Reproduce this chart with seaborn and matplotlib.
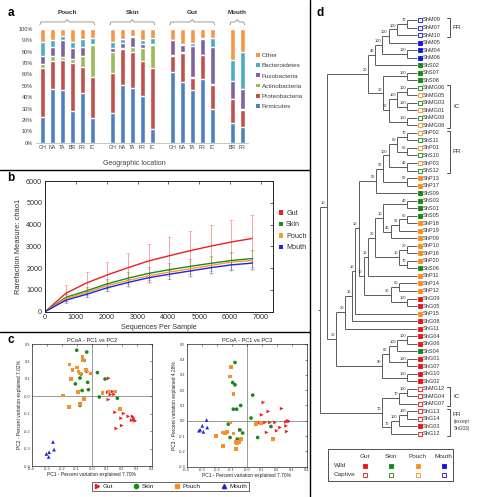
import numpy as np
import pandas as pd
import matplotlib
matplotlib.use("Agg")
import matplotlib.pyplot as plt
from matplotlib.lines import Line2D
from matplotlib.patches import Patch, Rectangle
from matplotlib.transforms import Affine2D
import seaborn as sns

sns.set_theme(style="white")
plt.rcParams["font.family"] = ["Liberation Sans", "DejaVu Sans"]
plt.rcParams["axes.unicode_minus"] = False

W, H = 482, 497

# ---------------- a: phylum composition per site / location
bar_groups = ["Pouch"] * 6 + ["Skin"] * 5 + ["Gut"] * 5 + ["Mouth"] * 2
bar_sites = ["GH", "NA", "TA", "BR", "FR", "IC", "GH", "NA", "TA", "FR", "IC",
             "GH", "NA", "TA", "FR", "IC", "BR", "FR"]
firmicutes = [23, 47, 46, 28, 44, 22, 26, 51, 48, 41, 12, 62, 53, 46, 56, 30, 17, 14]
proteobacteria = [43, 25, 27, 42, 23, 36, 35, 31, 32, 31, 54, 14, 26, 11, 21, 21, 21, 15]
actinobacteria = [3, 4, 2, 4, 9, 28, 19, 1, 4, 11, 20, 1, 1, 1, 0.5, 1, 0.5, 0.5]
fusobacteria = [7, 8, 15, 9, 8, 1, 3, 5, 9, 4, 0.5, 13, 6, 27, 13.5, 32, 16, 18]
bacteroidetes = [13, 6, 4, 6, 7, 5, 6, 3, 1, 3, 5.5, 0.5, 1, 3, 1, 8, 18, 32]
other = [11, 10, 6, 11, 9, 8, 11, 9, 6, 10, 8, 9.5, 13, 12, 8, 8, 27.5, 20.5]
phyla = ["Firmicutes", "Proteobacteria", "Actinobacteria", "Fusobacteria", "Bacteroidetes", "Other"]
phylum_colors = ["#4F81BD", "#C0504D", "#9BBB59", "#8064A2", "#4BACC6", "#F79646"]

# ---------------- b: rarefaction (chao1)
seq_depth = [10, 680, 1350, 2020, 2690, 3360, 4030, 4700, 5370, 6040, 6710]
chao_gut = [10, 850, 1320, 1690, 2020, 2330, 2570, 2800, 3010, 3200, 3360]
chao_skin = [10, 660, 960, 1280, 1540, 1760, 1930, 2080, 2220, 2350, 2440]
chao_pouch = [10, 600, 880, 1200, 1430, 1650, 1820, 1970, 2120, 2280, 2350]
chao_mouth = [10, 530, 800, 1100, 1340, 1560, 1720, 1870, 2020, 2150, 2230]
sd_gut = [0, 380, 480, 580, 670, 780, 860, 920, 980, 1030, 1100]
sd_skin = [0, 150, 190, 230, 260, 290, 310, 330, 350, 370, 380]
sd_pouch = [0, 170, 220, 260, 290, 320, 340, 360, 380, 400, 420]
sd_mouth = [0, 110, 140, 160, 180, 200, 210, 220, 230, 240, 250]
sites = ["Gut", "Skin", "Pouch", "Mouth"]
line_colors = {"Gut": "#F01E1E", "Skin": "#1A8C1A", "Pouch": "#FF9A33", "Mouth": "#2323E6"}

# ---------------- c: PCoA
gut_pc1_a = [-0.038, -0.029, 0.113, 0.107, 0.138, 0.149, 0.111, 0.156, 0.196, 0.213,
             0.244, 0.273, 0.280, 0.285, 0.291, 0.267, 0.164, 0.200, 0.125]
gut_pc2_a = [0.149, 0.141, 0.103, 0.023, 0.027, 0.011, -0.019, -0.092, -0.126, -0.099,
             -0.115, -0.115, -0.126, -0.138, -0.141, -0.138, -0.185, -0.168, 0.010]
skin_pc1_a = [-0.100, -0.033, -0.051, -0.078, 0.038, 0.089, -0.027, -0.109, -0.064,
              -0.022, 0.051, 0.171, -0.078, -0.071]
skin_pc2_a = [0.264, 0.254, 0.206, 0.105, 0.136, 0.099, 0.080, 0.071, 0.033,
              0.038, -0.004, -0.011, -0.052, 0.128]
pouch_pc1_a = [-0.149, -0.127, -0.100, -0.089, -0.062, -0.056, -0.078, -0.007, -0.138, -0.093,
               -0.193, -0.051, -0.078, -0.153, 0.073, 0.113, 0.156, 0.189, -0.040]
pouch_pc2_a = [0.182, 0.149, 0.166, 0.143, 0.224, 0.206, 0.130, 0.130, 0.099, 0.023,
               0.004, -0.017, -0.044, -0.063, 0.019, 0.027, 0.027, -0.073, 0.150]
mouth_pc1_a = [-0.258, -0.251, -0.284, -0.302, -0.287]
mouth_pc2_a = [-0.262, -0.306, -0.321, -0.331, -0.348]

gut_pc1_b = [0.111, 0.144, 0.100, 0.233, 0.122, 0.155, 0.189, 0.262, 0.273, 0.283,
             0.262, 0.222, 0.133, 0.267, 0.200, -0.045, 0.075, 0.090]
gut_pc3_b = [0.120, 0.061, 0.039, 0.080, -0.011, -0.011, -0.011, -0.007, 0.000, -0.004,
             -0.033, -0.044, -0.076, -0.070, -0.065, -0.059, -0.015, -0.011]
skin_pc1_b = [-0.078, -0.093, -0.078, -0.040, -0.067, -0.089, -0.123, -0.111, -0.063,
              -0.027, 0.040, 0.029, 0.162, 0.073, -0.045]
skin_pc3_b = [0.381, 0.250, 0.235, 0.100, 0.076, 0.076, -0.022, -0.109, -0.120,
              -0.080, 0.168, 0.018, -0.037, -0.109, -0.060]
pouch_pc1_b = [-0.105, -0.111, -0.089, -0.107, -0.205, -0.160, -0.145, -0.133, -0.089,
               -0.160, -0.073, -0.063, -0.050, -0.073, 0.062, 0.095, 0.177, -0.040]
pouch_pc3_b = [0.353, 0.290, 0.174, -0.011, -0.098, -0.076, -0.080, -0.072, -0.083,
               -0.163, -0.137, -0.146, -0.140, -0.185, -0.022, -0.015, -0.120, -0.120]
mouth_pc1_b = [-0.311, -0.296, -0.318, -0.289, -0.267, -0.263]
mouth_pc3_b = [-0.059, -0.033, -0.065, -0.072, 0.005, -0.044]
pc_colors = {"Gut": "#EE1C1C", "Skin": "#178A17", "Pouch": "#F5902A", "Mouth": "#2222DD"}
pc_markers = {"Gut": ">", "Skin": "o", "Pouch": "s", "Mouth": "^"}

# ---------------- d: tree
tree_leaves = ["ShM09", "ShM07", "ShM10", "ShM05", "ShM04", "ShM06", "ShS02", "ShS07", "ShS08",
               "ShMG06", "ShMG05", "ShMG03", "ShMG01", "ShMG09", "ShMG08",
               "ShP02", "ShS11", "ShP01", "ShS10", "ShP03", "ShS12",
               "ShP13", "ShP17", "ShS09", "ShS03", "ShS01", "ShS05", "ShP18", "ShP19", "ShP09",
               "ShP10", "ShP16", "ShP20", "ShS06", "ShP11", "ShP14", "ShP12", "ShG09", "ShG05",
               "ShP15", "ShG08", "ShG11", "ShG04", "ShG06", "ShS04", "ShG01", "ShG07", "ShG10",
               "ShG02", "ShMG12", "ShMG04", "ShMG07", "ShG13", "ShG14", "ShG03", "ShG12"]
leaf_site = (["Mouth"] * 6 + ["Skin"] * 3 + ["Skin", "Pouch"] * 3 + ["Pouch", "Skin"] * 3 +
             ["Pouch", "Pouch", "Skin", "Skin", "Skin", "Skin", "Pouch", "Pouch", "Pouch",
              "Pouch", "Pouch", "Pouch", "Skin", "Pouch", "Pouch", "Pouch", "Gut", "Gut",
              "Pouch", "Gut", "Gut", "Gut", "Gut", "Skin", "Gut", "Gut", "Gut", "Gut"] +
             ["Gut"] * 7)
leaf_wild = [False] * 3 + [True] * 6 + [False] * 12 + [True] * 28 + [False] * 5 + [True] + [False]
tree_colors = {"Gut": "#EE1111", "Skin": "#118811", "Pouch": "#FF8C1A", "Mouth": "#1111EE"}


def clade(depth, support, *kids):
    return {"depth": depth, "support": support, "kids": list(kids)}


tree = clade(0, None,
    clade(7, 10,
        clade(49.5, 20,
            clade(57, 40,
                clade(64, 100,
                    clade(71, 100,
                        clade(79.4, 100, clade(90, 70, "ShM09", "ShM07"), "ShM10"),
                        "ShM05"),
                    clade(90, 100, "ShM04", "ShM06")),
                "ShS02"),
            clade(65, 30,
                clade(90, 100, "ShS07", "ShS08"),
                clade(71, 60,
                    clade(79.4, 100, clade(90, 100, "ShMG06", "ShMG05"),
                          clade(90, 100, "ShMG03", "ShMG01")),
                    clade(90, 100, "ShMG09", "ShMG08")))),
        clade(16.5, 30,
            clade(26, 20,
                clade(33, 10,
                    clade(36, 10,
                        clade(40, 10,
                            clade(58, 50,
                                clade(65, 50,
                                    clade(71, 100,
                                        clade(79.4, 60, clade(90, 70, "ShP02", "ShS11"),
                                              clade(90, 60, "ShP01", "ShS10")),
                                        clade(90, 40, "ShP03", "ShS12")),
                                    clade(90, 50, "ShP13", "ShP17")),
                                "ShS09"),
                            clade(45, 10,
                                clade(49.5, 10,
                                    clade(57, 20,
                                        clade(65, 10,
                                            clade(90, 40, "ShS03", "ShS01"),
                                            clade(73, 40,
                                                clade(81.4, 50, clade(90, 60, "ShS05", "ShP18"), "ShP19"),
                                                "ShP09")),
                                        clade(81.4, 10, clade(90, 20, "ShP10", "ShP16"),
                                              clade(90, 70, "ShP20", "ShS06"))),
                                    "ShP11"),
                                clade(73, 30, clade(81.4, 60, "ShP14", "ShP12"),
                                      clade(90, 100, "ShG09", "ShG05")))),
                        "ShP15"),
                    "ShG08"),
                "ShG11"),
            clade(64, 90,
                clade(71, 80,
                    clade(79.4, 100, clade(90, 100, "ShG04", "ShG06"), "ShS04"),
                    clade(90, 100, "ShG01", "ShG07")),
                clade(90, 100, "ShG10", "ShG02")))),
    clade(64, 70,
        clade(81.4, 70, clade(90, 100, "ShMG12", "ShMG04"), "ShMG07"),
        clade(73, 70, clade(81.4, 100, clade(90, 100, "ShG13", "ShG14"), "ShG03"), "ShG12")))

brackets = [("FR", "ShM09", "ShM10"), ("IC", "ShMG06", "ShMG08"), ("FR", "ShP02", "ShS12"),
            ("IC", "ShMG12", "ShMG07"), ("FR", "ShG13", "ShG12")]


def frac(x0, y0, x1, y1):
    return [x0 / W, 1 - y1 / H, (x1 - x0) / W, (y1 - y0) / H]


fig = plt.figure(figsize=(W / 100, H / 100), dpi=100)
pix = Affine2D().scale(1 / W, -1 / H).translate(0, 1) + fig.transFigure


def ptext(x, y, s, **kw):
    fig.text(x / W, 1 - y / H, s, **kw)


# ======================= panel a
ax_a = fig.add_axes(frac(36, 29, 248, 142.7))
bar_ids = [f"{g} {s}" for g, s in zip(bar_groups, bar_sites)]
slots = []
for i, g in enumerate(bar_groups):
    if i and g != bar_groups[i - 1]:
        slots.append(f"gap {i}")
    slots.append(bar_ids[i])
comp = pd.DataFrame({"bar": bar_ids, "Firmicutes": firmicutes, "Proteobacteria": proteobacteria,
                     "Actinobacteria": actinobacteria, "Fusobacteria": fusobacteria,
                     "Bacteroidetes": bacteroidetes, "Other": other})
stack = comp[phyla].cumsum(axis=1)
for ph, col in reversed(list(zip(phyla, phylum_colors))):
    sns.barplot(x=comp["bar"], y=stack[ph], order=slots, color=col, width=0.47,
                saturation=1, errorbar=None, ax=ax_a)
ax_a.set_xlim(-0.63, 20.57)
ax_a.set_ylim(0, 100)
ax_a.set_yticks(range(0, 101, 10))
ax_a.set_yticklabels([f"{v}%" for v in range(0, 101, 10)], fontsize=4, color="#404040")
ax_a.set_xticks(range(len(slots)))
ax_a.set_xticklabels(["" if s.startswith("gap") else s.split(" ")[1] for s in slots],
                     fontsize=3.8, color="#404040")
ax_a.tick_params(length=0, pad=2)
ax_a.set_xlabel("")
ax_a.set_ylabel("")
for sp in ["left", "top", "right"]:
    ax_a.spines[sp].set_visible(False)
ax_a.spines["bottom"].set_color("#bdbdbd")
ax_a.spines["bottom"].set_linewidth(0.6)
for g in ["Pouch", "Skin", "Gut", "Mouth"]:
    idx = [k for k, s in enumerate(slots) if s.startswith(g + " ")]
    x0, x1 = idx[0] - 0.25, idx[-1] + 0.25
    xm = (x0 + x1) / 2
    ax_a.plot([x0, x0 + 0.12, xm - 0.2, xm, xm + 0.2, x1 - 0.12, x1],
              [103.5, 106.2, 106.2, 108.2, 106.2, 106.2, 103.5],
              color="#8c8c8c", lw=0.6, clip_on=False)
    ax_a.text(xm, 114.3, g, ha="center", va="center", fontsize=4.6, fontweight="bold",
              color="#333333", clip_on=False)
ptext(134, 163.7, "Geographic location", ha="center", va="center", fontsize=5, color="#404040")
fig.legend([Patch(facecolor=c, edgecolor="none") for c in phylum_colors[::-1]], phyla[::-1],
           loc="upper left", bbox_to_anchor=(256 / W, 1 - 53 / H), frameon=False, fontsize=4.6,
           handlelength=0.55, handleheight=0.55, handletextpad=0.35, labelspacing=0.78,
           borderaxespad=0, borderpad=0, labelcolor="#404040")

# ======================= panel b
ax_b = fig.add_axes(frac(45, 181, 273, 311.7))
rare = pd.DataFrame({"seqs": seq_depth * 4,
                     "chao1": chao_gut + chao_skin + chao_pouch + chao_mouth,
                     "site": [s for s in sites for _ in seq_depth]})
for site, mean, sd in zip(sites, [chao_gut, chao_skin, chao_pouch, chao_mouth],
                          [sd_gut, sd_skin, sd_pouch, sd_mouth]):
    ax_b.errorbar(seq_depth[1:], mean[1:], yerr=sd[1:], fmt="none", ecolor=line_colors[site],
                  alpha=0.4, elinewidth=0.7, capsize=1.6, capthick=0.5)
sns.lineplot(data=rare, x="seqs", y="chao1", hue="site", palette=line_colors, linewidth=1.0,
             legend=False, errorbar=None, ax=ax_b)
ax_b.set_xlim(0, 7390)
ax_b.set_ylim(0, 6000)
ax_b.set_xticks(range(0, 7001, 1000))
ax_b.set_yticks(range(0, 6001, 1000))
ax_b.tick_params(direction="in", top=True, right=True, length=2.5, width=0.5, labelsize=5.2,
                 labelcolor="#333333", pad=2)
for sp in ax_b.spines.values():
    sp.set_color("#222222")
    sp.set_linewidth(0.7)
ax_b.set_xlabel("Sequences Per Sample", fontsize=5.2, color="#333333", labelpad=1.5)
ax_b.set_ylabel("Rarefaction Measure: chao1", fontsize=5.4, color="#333333", labelpad=3)
fig.legend([Patch(facecolor=line_colors[s], edgecolor="none") for s in sites], sites,
           loc="upper left", bbox_to_anchor=(279 / W, 1 - 210 / H), frameon=False, fontsize=5.2,
           handlelength=0.6, handleheight=0.6, handletextpad=0.4, labelspacing=0.62,
           borderaxespad=0, borderpad=0, labelcolor="#333333")

# ======================= panel c
pcoa_a = pd.DataFrame({"pc1": gut_pc1_a + skin_pc1_a + pouch_pc1_a + mouth_pc1_a,
                       "pc2": gut_pc2_a + skin_pc2_a + pouch_pc2_a + mouth_pc2_a,
                       "site": ["Gut"] * len(gut_pc1_a) + ["Skin"] * len(skin_pc1_a) +
                               ["Pouch"] * len(pouch_pc1_a) + ["Mouth"] * len(mouth_pc1_a)})
pcoa_b = pd.DataFrame({"pc1": gut_pc1_b + skin_pc1_b + pouch_pc1_b + mouth_pc1_b,
                       "pc3": gut_pc3_b + skin_pc3_b + pouch_pc3_b + mouth_pc3_b,
                       "site": ["Gut"] * len(gut_pc1_b) + ["Skin"] * len(skin_pc1_b) +
                               ["Pouch"] * len(pouch_pc1_b) + ["Mouth"] * len(mouth_pc1_b)})
ax_c1 = fig.add_axes(frac(31.7, 344, 151.7, 466))
ax_c2 = fig.add_axes(frac(186.7, 344.3, 306.7, 466.7))
for ax, df, yc, ylim, title, ylab in [
        (ax_c1, pcoa_a, "pc2", (-0.4, 0.3), "PCoA - PC1 vs PC2", "PC2 - Percent variation explained 7.02%"),
        (ax_c2, pcoa_b, "pc3", (-0.3, 0.5), "PCoA - PC1 vs PC3", "PC3 - Percent variation explained 4.28%")]:
    ax.axhline(0, color="#8a8a8a", lw=0.6, zorder=0)
    ax.axvline(0, color="#8a8a8a", lw=0.6, zorder=0)
    sns.scatterplot(data=df, x="pc1", y=yc, hue="site", style="site", palette=pc_colors,
                    markers=pc_markers, s=7, linewidth=0, legend=False, ax=ax)
    ax.set_xlim(-0.4, 0.4)
    ax.set_ylim(*ylim)
    ax.set_xticks(np.arange(-0.4, 0.41, 0.1))
    ax.set_xticklabels([f"{v:.1f}" for v in np.arange(-0.4, 0.41, 0.1)])
    yt = np.arange(ylim[0], ylim[1] + 0.01, 0.1)
    ax.set_yticks(yt)
    ax.set_yticklabels([f"{v:.1f}" for v in yt])
    ax.tick_params(direction="in", top=True, right=True, length=1.5, width=0.4, labelsize=2.8,
                   labelcolor="#333333", pad=1)
    for sp in ax.spines.values():
        sp.set_color("#222222")
        sp.set_linewidth(0.5)
    ax.set_title(title, fontsize=4.1, color="#222222", pad=1.5)
    ax.set_xlabel("PC1 - Percent variation explained 7.70%", fontsize=3.5, color="#222222", labelpad=0.5)
    ax.set_ylabel(ylab, fontsize=3.5, color="#222222", labelpad=1)
fig.legend([Line2D([], [], ls="none", marker=pc_markers[s], color=pc_colors[s], markersize=3)
            for s in sites], sites, loc="center", bbox_to_anchor=(170.5 / W, 1 - 486.5 / H),
           ncol=4, frameon=True, fancybox=False, edgecolor="#222222", fontsize=4.6,
           handlelength=1.0, handletextpad=0.3, columnspacing=3.2, borderpad=0.25,
           borderaxespad=0, labelcolor="#222222").get_frame().set_linewidth(0.6)

# ======================= panel d
ax_d = fig.add_axes(frac(310, 0, 482, 497))
ax_d.set_xlim(-10.3, 167)
ax_d.set_ylim(63.37, -2.657)
ax_d.axis("off")
leaf_y = {name: i for i, name in enumerate(tree_leaves)}
tree_line = dict(color="#5a5a5a", lw=0.7, solid_capstyle="butt")


def place(node):
    if isinstance(node, str):
        return 100, leaf_y[node]
    pts = [place(k) for k in node["kids"]]
    node["pts"] = pts
    node["y"] = (pts[0][1] + pts[-1][1]) / 2
    return node["depth"], node["y"]


def draw(node):
    x = node["depth"]
    ys = [p[1] for p in node["pts"]]
    ax_d.plot([x, x], [min(ys), max(ys)], **tree_line)
    for kid, (kx, ky) in zip(node["kids"], node["pts"]):
        ax_d.plot([x, kx], [ky, ky], **tree_line)
        if not isinstance(kid, str):
            draw(kid)
    if node["support"] is not None:
        ax_d.text(x - 1.3, node["y"] - 0.25, str(node["support"]), ha="right", va="bottom",
                  fontsize=2.9, color="#333333")


place(tree)
draw(tree)
ax_d.plot([-2.5, 0], [tree["y"], tree["y"]], **tree_line)
site_of = dict(zip(tree_leaves, leaf_site))
wild_of = dict(zip(tree_leaves, leaf_wild))
for name in tree_leaves:
    col = tree_colors[site_of[name]]
    ax_d.scatter([102.8], [leaf_y[name]], marker="s", s=10,
                 facecolor=col if wild_of[name] else "white", edgecolor=col, linewidth=0.6)
    ax_d.text(106.3, leaf_y[name], name, ha="left", va="center", fontsize=4.1, color="#333333")
for lab, a, b in brackets:
    y0, y1 = leaf_y[a] - 0.3, leaf_y[b] + 0.3
    ax_d.plot([131, 134, 134, 131], [y0, y0, y1, y1], color="#333333", lw=0.6)
    ym = (y0 + y1) / 2
    if a == "ShG13":
        ax_d.text(137, y0 + 0.7, lab, ha="left", va="center", fontsize=4.6, color="#333333")
        ax_d.text(137.5, y0 + 1.7, "(except", ha="left", va="center", fontsize=3.4, color="#333333")
        ax_d.text(137.5, y0 + 2.6, "ShG03)", ha="left", va="center", fontsize=3.4, color="#333333")
    else:
        ax_d.text(137, ym, lab, ha="left", va="center", fontsize=4.6, color="#333333")

# legend table of panel d
fig.add_artist(Rectangle((328, 449), 125, 32, transform=pix, fill=False, edgecolor="#333333", lw=0.6))
for k, s in enumerate(sites):
    cx = 365 + k * 26.3
    ptext(cx, 456, s, ha="center", va="center", fontsize=4.6, color="#333333")
    for row, wild in [(465.5, True), (474.5, False)]:
        fig.add_artist(Line2D([cx], [row], transform=pix, marker="s", markersize=3.4, ls="none",
                              markerfacecolor=tree_colors[s] if wild else "white",
                              markeredgecolor=tree_colors[s], markeredgewidth=0.6))
ptext(334, 465.5, "Wild", ha="left", va="center", fontsize=4.6, color="#333333")
ptext(334, 474.5, "Captive", ha="left", va="center", fontsize=4.6, color="#333333")

# ======================= dividers, panel letters
fig.add_artist(Line2D([0, 310], [170, 170], transform=pix, color="black", lw=1.0))
fig.add_artist(Line2D([0, 310], [332, 332], transform=pix, color="black", lw=1.0))
fig.add_artist(Line2D([310, 310], [0, 497], transform=pix, color="black", lw=1.0))
for lab, x, y in [("a", 11, 13), ("b", 11, 178), ("c", 11, 340), ("d", 320, 13)]:
    ptext(x, y, lab, ha="center", va="center", fontsize=8.5, fontweight="bold", color="black")

fig.savefig("out.png", dpi=100)
